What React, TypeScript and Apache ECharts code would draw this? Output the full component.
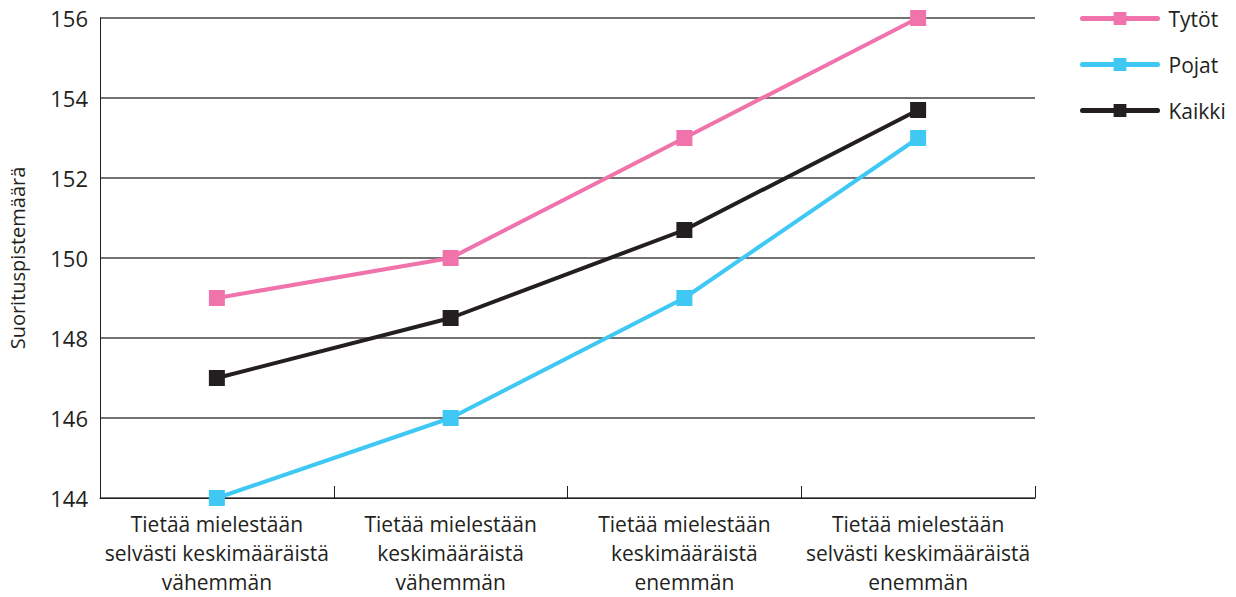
import React, { useEffect, useRef } from "react";
import * as echarts from "echarts";

const categories = [
  "Tietää mielestään\nselvästi keskimääräistä\nvähemmän",
  "Tietää mielestään\nkeskimääräistä\nvähemmän",
  "Tietää mielestään\nkeskimääräistä\nenemmän",
  "Tietää mielestään\nselvästi keskimääräistä\nenemmän",
];
const tytot = [149, 150, 153, 156];
const pojat = [144, 146, 149, 153];
const kaikki = [147, 148.5, 150.7, 153.7];

const FONT = "'Open Sans', 'Noto Sans', sans-serif";

export default function App() {
  const ref = useRef<HTMLDivElement>(null);
  useEffect(() => {
    if (!ref.current) return;
    const chart = echarts.init(ref.current, null, { renderer: "svg" });
    const mk = (name: string, data: number[], color: string) => ({
      name,
      type: "line",
      data,
      symbol: "rect",
      symbolSize: 16,
      itemStyle: { color },
      lineStyle: { color, width: 4 },
      z: 3,
    });
    chart.setOption({
      animation: false,
      textStyle: { fontFamily: FONT },
      grid: {
        left: 100,
        top: 18,
        width: 935,
        height: 480,
        containLabel: false,
        outerBoundsMode: "none",
      },
      legend: {
        orient: "vertical",
        left: 1075,
        top: 3,
        itemWidth: 75,
        itemHeight: 16,
        itemGap: 25,
        textStyle: {
          fontSize: 21,
          color: "#231f20",
          fontFamily: FONT,
          padding: [0, 0, 0, 6],
        },
        lineStyle: { width: 5, cap: "round" },
        data: ["Tytöt", "Pojat", "Kaikki"],
      },
      xAxis: {
        type: "category",
        data: categories,
        boundaryGap: true,
        axisLine: { show: true, lineStyle: { color: "#231f20", width: 1 } },
        axisTick: { show: true, inside: true, length: 12, lineStyle: { color: "#231f20" } },
        axisLabel: {
          fontSize: 21,
          lineHeight: 29,
          color: "#231f20",
          margin: 11,
          interval: 0,
          fontFamily: FONT,
        },
      },
      yAxis: {
        type: "value",
        min: 144,
        max: 156,
        interval: 2,
        name: "Suorituspistemäärä",
        nameLocation: "middle",
        nameRotate: 90,
        nameGap: 73,
        nameTextStyle: { fontSize: 20, color: "#231f20", fontFamily: FONT },
        axisLine: { show: true, lineStyle: { color: "#231f20", width: 1 } },
        axisTick: { show: false },
        axisLabel: { fontSize: 22, color: "#231f20", margin: 12, fontFamily: FONT },
        splitLine: { show: true, lineStyle: { color: "#444444", width: 1.5 } },
      },
      series: [
        mk("Tytöt", tytot, "#f173ac"),
        mk("Pojat", pojat, "#3fc8f4"),
        mk("Kaikki", kaikki, "#231f20"),
      ],
    });
    return () => chart.dispose();
  }, []);
  return (
    <div
      ref={ref}
      style={{ position: "fixed", left: 0, top: 0, width: 1236, height: 597, background: "#fff" }}
    />
  );
}
